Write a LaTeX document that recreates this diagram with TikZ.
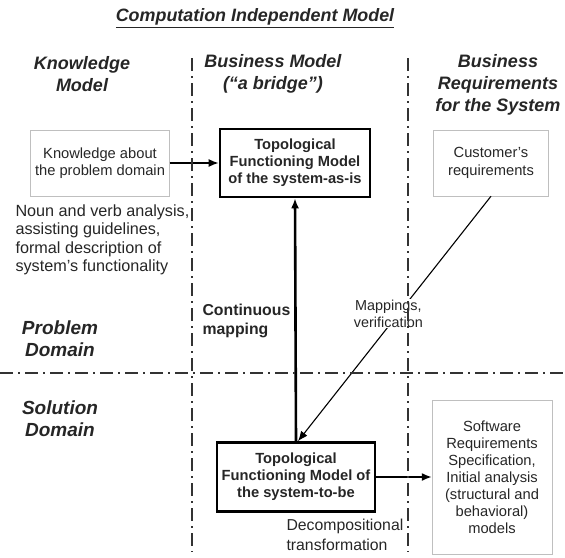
\documentclass[tikz,border=0pt]{standalone}
\usepackage{fontspec}
\setmainfont{Liberation Sans}
\usetikzlibrary{arrows.meta, positioning}

\tikzset{
    hdr/.style={font=\fontsize{18}{22}\selectfont\bfseries\itshape, align=center, text=black!85},
    txt/.style={font=\fontsize{14.7}{17.5}\selectfont, align=center, text=black!85},
    lightbox/.style={txt, draw=black!25, thin, minimum width=#1},
    tfmbox/.style={draw, line width=2.6pt, align=center, font=\fontsize{14.7}{17}\selectfont\bfseries, text=black!85, inner sep=2pt},
    divider/.style={line width=1.3pt, black!80, dash pattern=on 13pt off 5pt on 1.5pt off 5.5pt},
    arr/.style={-{Latex[length=10pt,width=8pt]}, line width=1.6pt}
}

\begin{document}
\begin{tikzpicture}[x=1pt, y=-1pt]
    \useasboundingbox (0,0) rectangle (565,557);

    \node[hdr, font=\fontsize{17.9}{20}\selectfont\bfseries\itshape] (cim) at (255,18) {\underline{Computation Independent Model}};
    \node[hdr] (kmh) at (82,74) {Knowledge\\Model};
    \node[hdr] (bmh) at (273,74) {Business Model\\(“a bridge”)};
    \node[hdr] (brh) at (498,85) {Business\\Requirements\\for the System};

    % boxes
    \node[lightbox=139pt, minimum height=66pt] (know) at (100,163) {Knowledge about\\the problem domain};
    \node[tfmbox, minimum width=150pt, minimum height=68pt] (asis) at (295,163) {Topological\\Functioning Model\\of the system-as-is};
    \node[lightbox=115pt, minimum height=66pt] (cust) at (491,163) {Customer’s\\requirements};
    \node[tfmbox, minimum width=158pt, minimum height=69pt] (tobe) at (296,477) {Topological\\Functioning Model of\\the system-to-be};
    \node[lightbox=120pt, minimum height=154pt, font=\fontsize{14.7}{17}\selectfont] (srs) at (492,477) {Software\\Requirements\\Specification,\\Initial analysis\\(structural and\\behavioral)\\models};

    % free labels
    \node[txt, align=left, anchor=north west, font=\fontsize{16.2}{18.5}\selectfont] (noun) at (12,201) {Noun and verb analysis,\\assisting guidelines,\\formal description of\\system’s functionality};
    \node[txt, align=left, anchor=west, font=\fontsize{15.8}{19}\selectfont\bfseries] (cmap) at (199,321) {Continuous\\mapping};
    \node[hdr, font=\fontsize{19}{22}\selectfont\bfseries\itshape] (pdom) at (60,339) {Problem\\Domain};
    \node[hdr, font=\fontsize{19}{22}\selectfont\bfseries\itshape] (sdom) at (60,419) {Solution\\Domain};
    \node[txt, align=left, anchor=west, font=\fontsize{15.8}{20}\selectfont] (decomp) at (283,535) {Decompositional\\transformation};

    % connectors
    \draw[arr] (know) -- (asis);
    \draw[arr, line width=2.6pt] (tobe.north) -- (asis.south);
    \draw[arr, line width=1.1pt] (cust.south) -- node[txt, fill=white, inner sep=1pt, pos=0.48, xshift=-10pt, font=\fontsize{14.4}{16.5}\selectfont] (mapv) {Mappings,\\verification} ([xshift=2pt]tobe.north);
    \draw[arr] (tobe) -- (srs);

    % dividers of the three columns and the two domains
    \draw[divider] (192,58) -- (192,552);
    \draw[divider] (408,58) -- (408,552);
    \draw[divider] (0,373) -- (565,373);
\end{tikzpicture}
\end{document}
